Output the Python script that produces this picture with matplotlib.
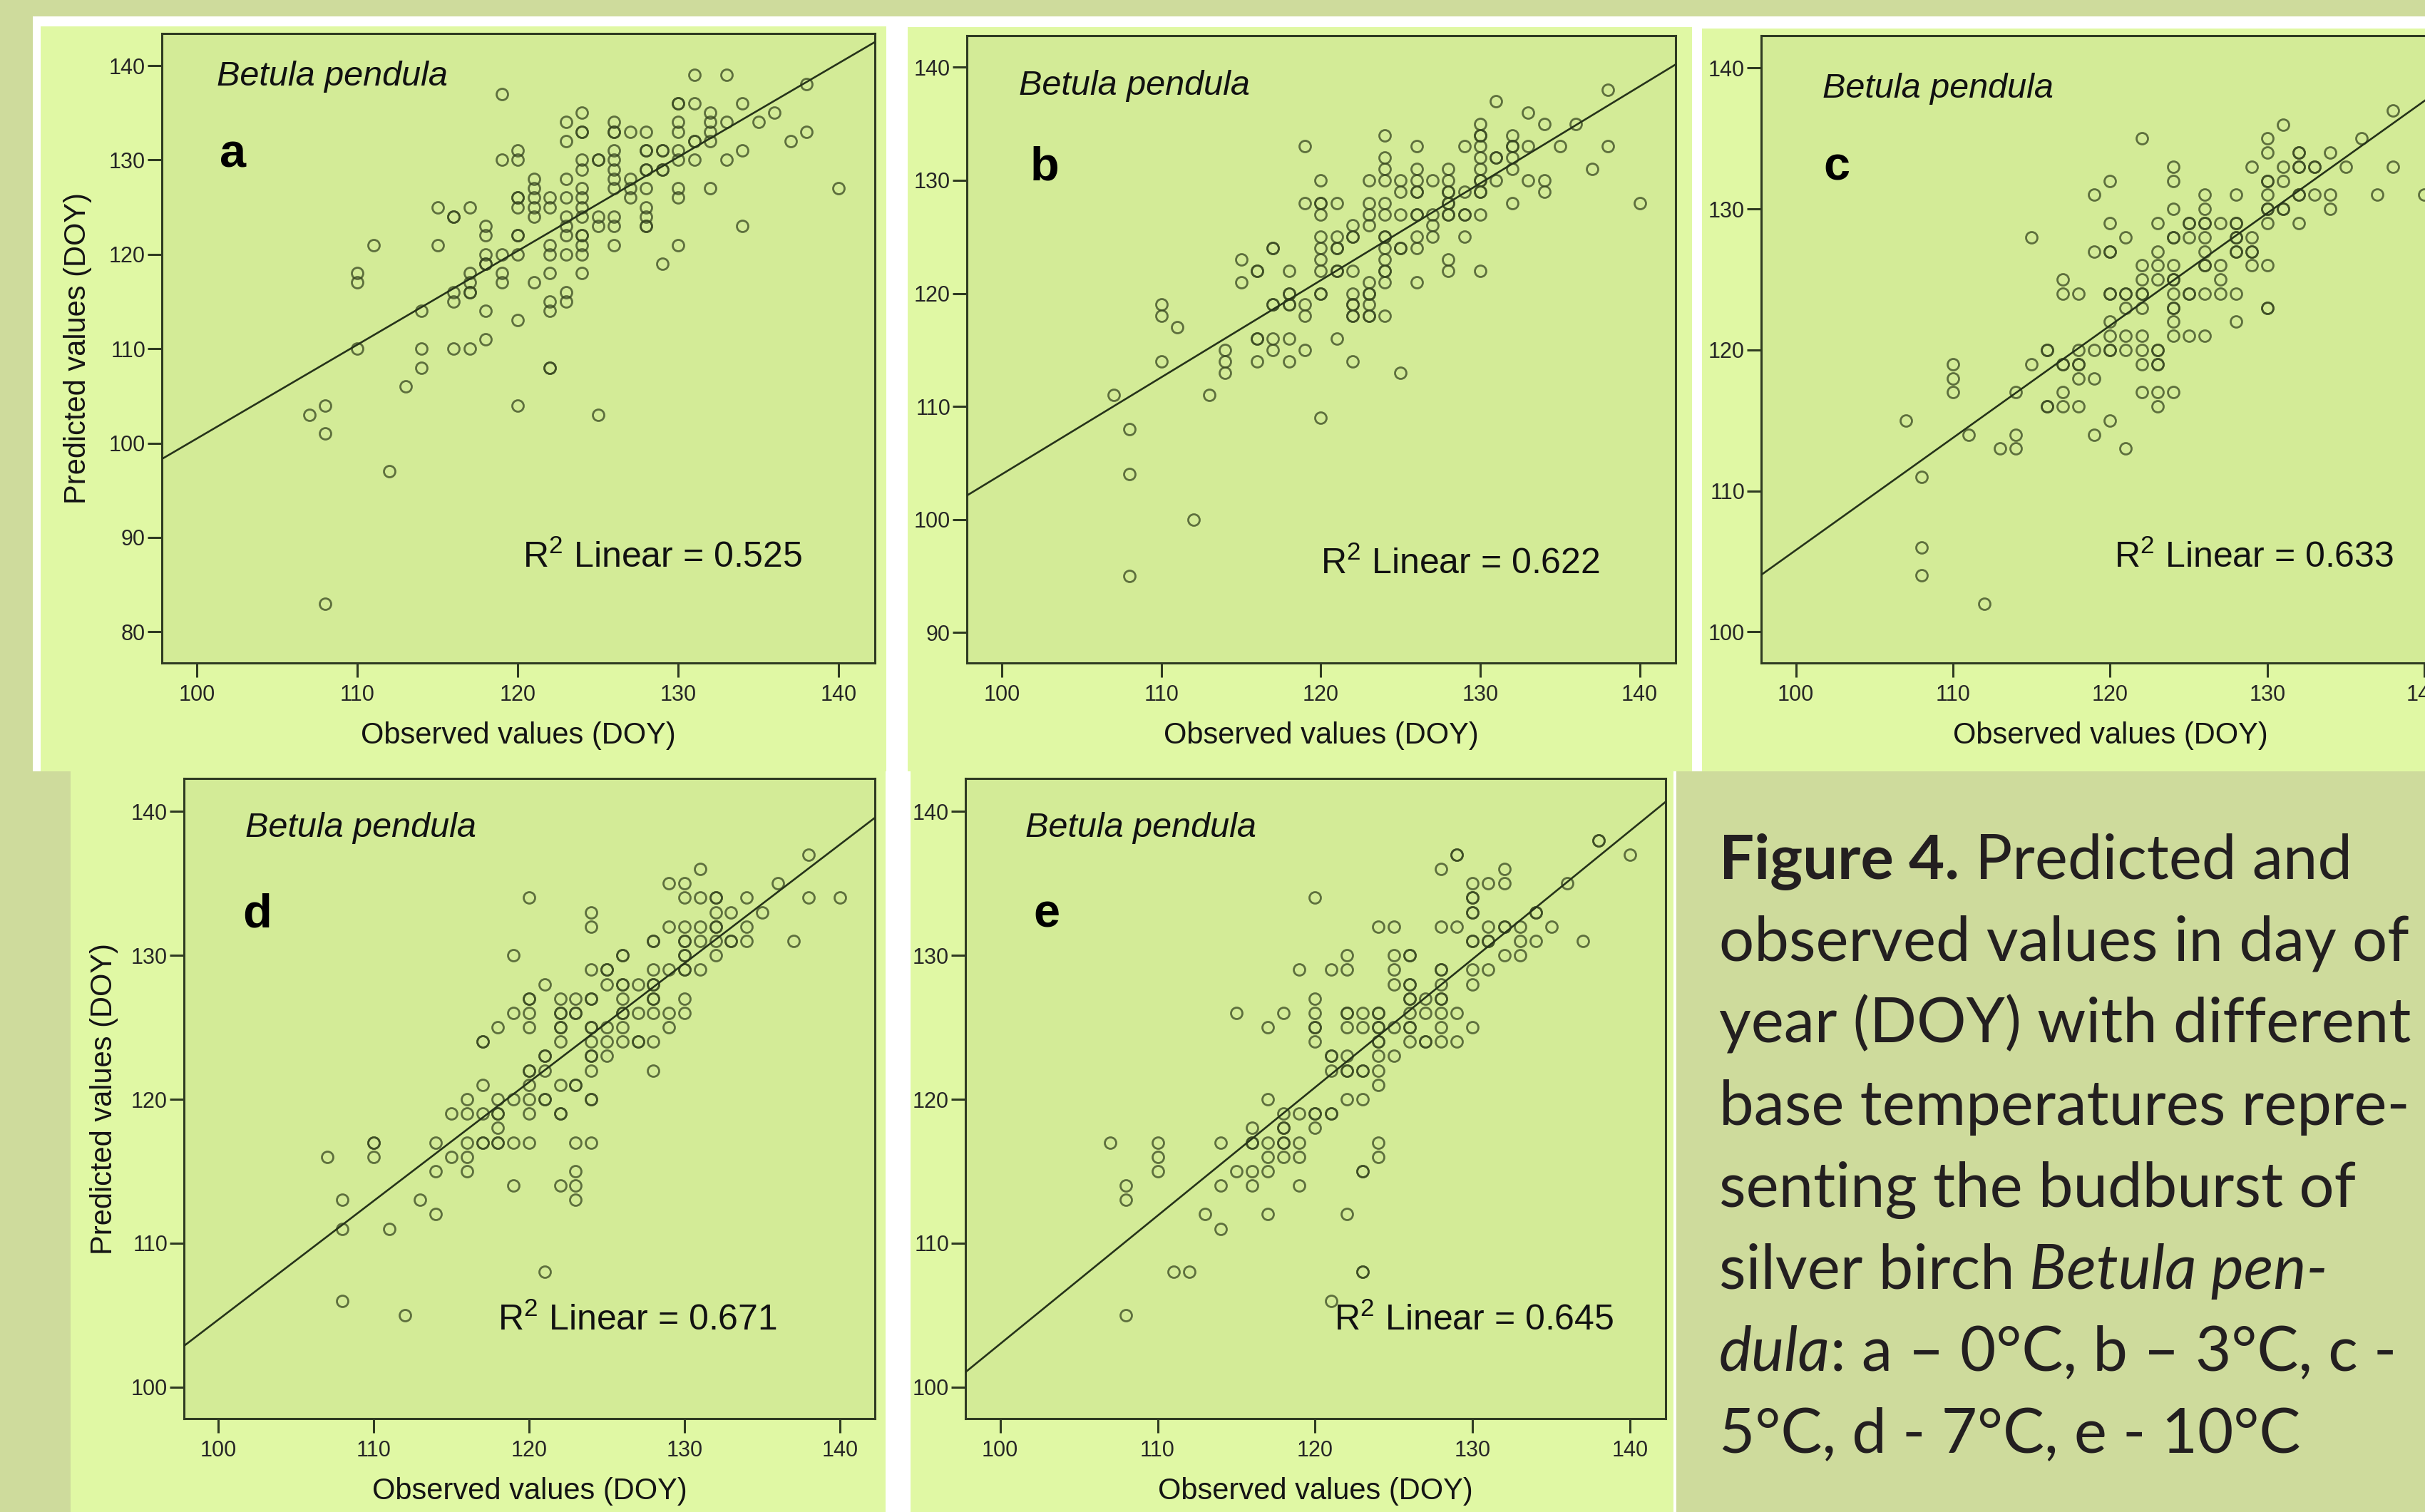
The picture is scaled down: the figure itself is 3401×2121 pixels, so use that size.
import matplotlib
matplotlib.use("Agg")
import matplotlib.pyplot as plt
from matplotlib.patches import Rectangle
import numpy as np

# ---------------- data (observed DOY, predicted DOY) ----------------
pts_a = [(119,137),(131,139),(133,139),(138,138),
 (130,136),(130,136),(131,136),(134,136),
 (124,135),(132,135),(136,135),
 (123,134),(126,134),(130,134),(132,134),(133,134),(135,134),
 (124,133),(124,133),(126,133),(126,133),(127,133),(128,133),(130,133),(132,133),(138,133),
 (123,132),(131,132),(131,132),(132,132),(137,132),
 (120,131),(126,131),(128,131),(128,131),(129,131),(129,131),(130,131),(134,131),
 (119,130),(120,130),(124,130),(125,130),(125,130),(126,130),(130,130),(131,130),(133,130),
 (124,129),(126,129),(128,129),(128,129),(129,129),(129,129),
 (121,128),(123,128),(126,128),(127,128),
 (121,127),(124,127),(126,127),(127,127),(128,127),(130,127),(132,127),(140,127),
 (120,126),(120,126),(121,126),(122,126),(123,126),(124,126),(127,126),(130,126),
 (115,125),(117,125),(120,125),(121,125),(122,125),(124,125),(128,125),
 (116,124),(116,124),(121,124),(123,124),(124,124),(125,124),(126,124),(128,124),
 (118,123),(123,123),(125,123),(126,123),(128,123),(128,123),(134,123),
 (118,122),(120,122),(120,122),(123,122),(124,122),(124,122),
 (111,121),(115,121),(122,121),(124,121),(126,121),(130,121),
 (118,120),(119,120),(120,120),(122,120),(123,120),(124,120),
 (118,119),(118,119),(129,119),
 (110,118),(117,118),(119,118),(122,118),(124,118),
 (110,117),(117,117),(119,117),(121,117),
 (116,116),(117,116),(117,116),(123,116),
 (116,115),(122,115),(123,115),
 (114,114),(118,114),(122,114),
 (120,113),(118,111),
 (110,110),(114,110),(116,110),(117,110),
 (114,108),(122,108),(122,108),
 (113,106),(108,104),(120,104),(107,103),(125,103),
 (108,101),(112,97),(108,83)]

pts_b = [(138,138),(131,137),(133,136),
 (130,135),(134,135),(136,135),
 (124,134),(130,134),(130,134),(132,134),
 (119,133),(126,133),(129,133),(130,133),(132,133),(132,133),(133,133),(135,133),(138,133),
 (124,132),(130,132),(131,132),(131,132),(132,132),
 (124,131),(126,131),(128,131),(130,131),(132,131),(137,131),
 (120,130),(123,130),(124,130),(125,130),(126,130),(127,130),(128,130),(130,130),(130,130),(131,130),(133,130),(134,130),
 (125,129),(126,129),(126,129),(128,129),(128,129),(129,129),(130,129),(130,129),(134,129),
 (119,128),(120,128),(120,128),(121,128),(123,128),(124,128),(128,128),(128,128),(132,128),(140,128),
 (120,127),(123,127),(124,127),(125,127),(126,127),(126,127),(127,127),(128,127),(128,127),(129,127),(129,127),(130,127),
 (122,126),(123,126),(127,126),
 (120,125),(121,125),(122,125),(122,125),(124,125),(124,125),(126,125),(127,125),(129,125),
 (117,124),(117,124),(120,124),(121,124),(121,124),(124,124),(125,124),(125,124),(126,124),
 (115,123),(120,123),(124,123),(128,123),
 (116,122),(116,122),(118,122),(120,122),(121,122),(121,122),(122,122),(124,122),(124,122),(128,122),(130,122),
 (115,121),(123,121),(124,121),(126,121),
 (118,120),(118,120),(120,120),(120,120),(122,120),(123,120),(123,120),
 (110,119),(117,119),(117,119),(118,119),(118,119),(119,119),(122,119),(122,119),(123,119),
 (110,118),(119,118),(122,118),(122,118),(123,118),(123,118),(124,118),
 (111,117),
 (116,116),(116,116),(117,116),(118,116),(121,116),
 (114,115),(117,115),(119,115),
 (110,114),(114,114),(116,114),(118,114),(122,114),
 (114,113),(125,113),(107,111),(113,111),
 (120,109),(108,108),(108,104),(112,100),(108,95)]

pts_c = [(138,137),(131,136),
 (122,135),(130,135),(136,135),
 (130,134),(132,134),(132,134),(134,134),
 (124,133),(129,133),(131,133),(132,133),(132,133),(133,133),(133,133),(135,133),(138,133),
 (120,132),(124,132),(130,132),(130,132),(131,132),
 (119,131),(126,131),(128,131),(130,131),(132,131),(132,131),(133,131),(134,131),(137,131),(140,131),
 (124,130),(126,130),(130,130),(130,130),(131,130),(131,130),(134,130),
 (120,129),(123,129),(125,129),(125,129),(126,129),(126,129),(127,129),(128,129),(128,129),(130,129),(132,129),
 (115,128),(121,128),(124,128),(124,128),(125,128),(126,128),(128,128),(128,128),(129,128),
 (119,127),(120,127),(120,127),(123,127),(126,127),(128,127),(128,127),(129,127),(129,127),
 (122,126),(123,126),(124,126),(126,126),(126,126),(127,126),(129,126),(130,126),
 (117,125),(122,125),(123,125),(124,125),(124,125),(127,125),
 (117,124),(118,124),(120,124),(120,124),(121,124),(121,124),(122,124),(122,124),(124,124),(125,124),(125,124),(126,124),(127,124),(128,124),
 (121,123),(122,123),(124,123),(124,123),(130,123),(130,123),
 (120,122),(124,122),(128,122),
 (120,121),(121,121),(122,121),(124,121),(125,121),(126,121),
 (116,120),(116,120),(118,120),(119,120),(120,120),(120,120),(121,120),(122,120),(123,120),(123,120),
 (110,119),(115,119),(117,119),(117,119),(118,119),(118,119),(122,119),(123,119),(123,119),
 (110,118),(118,118),(119,118),
 (110,117),(114,117),(117,117),(122,117),(123,117),(124,117),
 (116,116),(116,116),(117,116),(118,116),(123,116),
 (107,115),(120,115),
 (111,114),(114,114),(119,114),
 (113,113),(114,113),(121,113),
 (108,111),(108,106),(108,104),(112,102)]

pts_d = [(138,137),(131,136),
 (129,135),(130,135),(136,135),
 (120,134),(130,134),(131,134),(132,134),(132,134),(134,134),(138,134),(140,134),
 (124,133),(132,133),(133,133),(135,133),
 (124,132),(129,132),(130,132),(131,132),(132,132),(132,132),(134,132),
 (128,131),(128,131),(130,131),(130,131),(131,131),(132,131),(133,131),(133,131),(134,131),(137,131),
 (119,130),(126,130),(126,130),(130,130),(130,130),(132,130),
 (124,129),(125,129),(125,129),(128,129),(129,129),(130,129),(130,129),(131,129),
 (121,128),(125,128),(126,128),(126,128),(127,128),(128,128),(128,128),
 (120,127),(120,127),(122,127),(123,127),(124,127),(124,127),(126,127),(128,127),(128,127),(130,127),
 (119,126),(120,126),(122,126),(122,126),(123,126),(123,126),(126,126),(126,126),(127,126),(128,126),(129,126),(130,126),
 (118,125),(120,125),(122,125),(122,125),(124,125),(124,125),(125,125),(126,125),(129,125),
 (117,124),(117,124),(122,124),(124,124),(125,124),(126,124),(127,124),(127,124),(128,124),
 (121,123),(121,123),(124,123),(124,123),(125,123),
 (120,122),(120,122),(121,122),(124,122),(128,122),
 (117,121),(120,121),(122,121),(123,121),(123,121),
 (116,120),(118,120),(119,120),(120,120),(121,120),(121,120),(124,120),(124,120),
 (115,119),(116,119),(117,119),(118,119),(118,119),(120,119),(122,119),(122,119),
 (118,118),
 (110,117),(110,117),(114,117),(116,117),(117,117),(117,117),(118,117),(118,117),(119,117),(120,117),(123,117),(124,117),
 (107,116),(110,116),(115,116),(116,116),
 (114,115),(116,115),(123,115),
 (119,114),(122,114),(123,114),
 (108,113),(113,113),(123,113),
 (114,112),(108,111),(111,111),
 (121,108),(108,106),(112,105)]

pts_e = [(138,138),(138,138),
 (129,137),(129,137),(140,137),
 (128,136),(132,136),
 (130,135),(131,135),(132,135),(136,135),
 (120,134),(130,134),(130,134),
 (130,133),(130,133),(134,133),(134,133),
 (124,132),(125,132),(128,132),(129,132),(131,132),(132,132),(132,132),(133,132),(135,132),
 (130,131),(130,131),(131,131),(131,131),(133,131),(134,131),(137,131),
 (122,130),(125,130),(126,130),(126,130),(132,130),(133,130),
 (119,129),(121,129),(122,129),(125,129),(128,129),(128,129),(130,129),(131,129),
 (125,128),(126,128),(126,128),(128,128),(130,128),
 (120,127),(126,127),(126,127),(127,127),(128,127),(128,127),
 (115,126),(118,126),(120,126),(122,126),(122,126),(123,126),(124,126),(124,126),(126,126),(127,126),(128,126),(129,126),
 (117,125),(120,125),(120,125),(122,125),(123,125),(124,125),(124,125),(125,125),(126,125),(126,125),(128,125),(130,125),
 (120,124),(124,124),(124,124),(126,124),(127,124),(127,124),(128,124),(129,124),
 (121,123),(121,123),(122,123),(124,123),(125,123),
 (121,122),(122,122),(122,122),(123,122),(123,122),(124,122),
 (124,121),
 (117,120),(122,120),(123,120),
 (118,119),(119,119),(120,119),(120,119),(121,119),(121,119),
 (116,118),(118,118),(118,118),(120,118),
 (107,117),(110,117),(114,117),(116,117),(116,117),(117,117),(118,117),(118,117),(119,117),(124,117),
 (110,116),(117,116),(118,116),(119,116),(124,116),
 (110,115),(115,115),(116,115),(117,115),(123,115),(123,115),
 (108,114),(114,114),(116,114),(119,114),
 (108,113),
 (113,112),(117,112),(122,112),
 (114,111),
 (111,108),(112,108),(123,108),(123,108),
 (121,106),(108,105)]

panel_letters = ["a", "b", "c", "d", "e"]
r2_values = ["0.525", "0.622", "0.633", "0.671", "0.645"]
fit_slopes = [0.994, 0.858, 0.797, 0.826, 0.892]
fit_intercepts = [1.10, 18.2, 26.1, 22.07, 13.79]
y_ticks = [[80, 90, 100, 110, 120, 130, 140],
           [90, 100, 110, 120, 130, 140],
           [100, 110, 120, 130, 140],
           [100, 110, 120, 130, 140],
           [100, 110, 120, 130, 140]]
x_ticks = [100, 110, 120, 130, 140]
species = "Betula pendula"
x_label = "Observed values (DOY)"
y_label = "Predicted values (DOY)"

caption_lines = [
    [("Figure 4.", "bold", "normal"), ("Predicted and", "normal", "normal")],
    [("observed values in day of", "normal", "normal")],
    [("year (DOY) with different", "normal", "normal")],
    [("base temperatures repre-", "normal", "normal")],
    [("senting the budburst of", "normal", "normal")],
    [("silver birch", "normal", "normal"), ("Betula pen-", "normal", "italic")],
    [("dula", "normal", "italic"), (": a \u2013 0\u00b0C, b \u2013 3\u00b0C, c -", "normal", "normal", False)],
    [("5\u00b0C, d - 7\u00b0C, e - 10\u00b0C", "normal", "normal")],
]

# ---------------- style ----------------
OLIVE = "#cedb9c"
PANEL = "#e0f8a4"
AXBG = "#d3eb97"
WHITE = "#ffffff"
DARK = "#2f3b22"
PT = "#36451f"

plt.rcParams["font.family"] = ["Liberation Sans", "DejaVu Sans"]
plt.rcParams["mathtext.fontset"] = "custom"
plt.rcParams["mathtext.rm"] = "Liberation Sans"
plt.rcParams["mathtext.it"] = "Liberation Sans:italic"
plt.rcParams["mathtext.bf"] = "Liberation Sans:bold"

W, H = 3401, 2121
DPI = 100
fig = plt.figure(figsize=(W / DPI, H / DPI), dpi=DPI)
fig.patch.set_facecolor(OLIVE)


def rect(x0, y0, x1, y1, color):
    fig.patches.append(Rectangle((x0 / W, 1 - y1 / H), (x1 - x0) / W, (y1 - y0) / H,
                                 transform=fig.transFigure, facecolor=color,
                                 edgecolor="none", zorder=-10))


rect(46, 23, W, 1082, WHITE)
rect(57, 37, 1243, 1082, PANEL)
rect(1273, 38, 2373, 1082, PANEL)
rect(2387, 40, W, 1082, PANEL)
rect(99, 1082, 1242, H, PANEL)
rect(1242, 1082, 1277, H, WHITE)
rect(1277, 1082, 2347, H, PANEL)
rect(2347, 1082, 2351, H, WHITE)

boxes = [(227, 47, 1227, 930), (1356, 50, 2350, 930), (2470, 50, 3450, 930),
         (258, 1092, 1227, 1990), (1354, 1092, 2336, 1990)]
ylims = [(76.7, 143.4), (87.3, 142.8), (97.8, 142.3), (97.8, 142.3), (97.8, 142.3)]
xlim = (97.8, 142.25)
text_pos = [  # (species x,y), (letter x,y), (r2 x,y) in axes fraction
    ((0.077, 0.931), (0.081, 0.807), (0.506, 0.168)),
    ((0.073, 0.920), (0.089, 0.789), (0.499, 0.158)),
    ((0.088, 0.915), (0.089, 0.789), (0.505, 0.168)),
    ((0.089, 0.923), (0.085, 0.787), (0.454, 0.154)),
    ((0.086, 0.923), (0.097, 0.787), (0.526, 0.154)),
]
ylabel_off = {0: 118, 3: 112}
all_pts = [pts_a, pts_b, pts_c, pts_d, pts_e]

for i, (x0, y0, x1, y1) in enumerate(boxes):
    ax = fig.add_axes([x0 / W, 1 - y1 / H, (x1 - x0) / W, (y1 - y0) / H])
    ax.set_facecolor(AXBG)
    obs, pred = zip(*all_pts[i])
    ax.plot(obs, pred, linestyle="none", marker="o", markersize=11.5,
            markerfacecolor="none", markeredgecolor=PT, markeredgewidth=2.0,
            alpha=0.75, zorder=3)
    xs = np.array(xlim)
    ax.plot(xs, fit_intercepts[i] + fit_slopes[i] * xs, color="#26331a", lw=1.9, zorder=4)
    ax.set_xlim(*xlim)
    ax.set_ylim(*ylims[i])
    ax.set_xticks(x_ticks)
    ax.set_yticks(y_ticks[i])
    for s in ax.spines.values():
        s.set_color(DARK)
        s.set_linewidth(2.2)
    ax.tick_params(axis="both", direction="out", length=14.5, width=2.2, color=DARK,
                   labelsize=22, labelcolor="#262626")
    ax.tick_params(axis="y", pad=2)
    ax.tick_params(axis="x", pad=7)
    wpx, hpx = x1 - x0, y1 - y0
    ax.set_xlabel(x_label, fontsize=30, color="#141414")
    ax.xaxis.set_label_coords(0.5, -102 / hpx)
    ax.xaxis.label.set_verticalalignment("center")
    if i in ylabel_off:
        ax.set_ylabel(y_label, fontsize=30, color="#141414")
        ax.yaxis.set_label_coords(-ylabel_off[i] / wpx, 0.5)
        ax.yaxis.label.set_verticalalignment("center")
    (sx, sy), (lx, ly), (rx, ry) = text_pos[i]
    ax.text(sx, sy, species, transform=ax.transAxes, fontsize=35, fontstyle="italic",
            ha="left", va="center", color="#111111")
    ax.text(lx, ly, panel_letters[i], transform=ax.transAxes, fontsize=48,
            fontweight="bold", ha="left", va="center", color="#000000")
    ax.text(rx, ry, r"R$^{2}$ Linear = " + r2_values[i], transform=ax.transAxes,
            fontsize=36, ha="left", va="center", color="#111111")

# ---------------- caption ----------------
CAP_FONT = ["Lato", "DejaVu Sans"]
renderer = fig.canvas.get_renderer()


def text_width(s, size, weight, style):
    t = fig.text(0, 0, s, fontsize=size, fontweight=weight, fontstyle=style, family=CAP_FONT)
    w = t.get_window_extent(renderer).width
    t.remove()
    return w


def space_width(size, weight, style):
    return text_width("x x", size, weight, style) - text_width("xx", size, weight, style)


def line_width(segs, size):
    total = 0
    for k, seg in enumerate(segs):
        txt, weight, style = seg[0], seg[1], seg[2]
        sp = seg[3] if len(seg) > 3 else True
        if k > 0 and sp:
            total += space_width(size, weight, style)
        total += text_width(txt, size, weight, style)
    return total


ref_size = 60.0
scale5 = 944.0 / line_width(caption_lines[4], ref_size)
scale8 = 771.0 / line_width(caption_lines[7], ref_size)
cap_size = ref_size * 0.5 * (scale5 + scale8)

x_start, base0, step = 2411, 1232.6, 115.0
for j, segs in enumerate(caption_lines):
    x = x_start
    yb = base0 + j * step
    for k, seg in enumerate(segs):
        txt, weight, style = seg[0], seg[1], seg[2]
        sp = seg[3] if len(seg) > 3 else True
        if k > 0 and sp:
            x += space_width(cap_size, weight, style)
        t = fig.text(x / W, 1 - yb / H, txt, fontsize=cap_size, fontweight=weight,
                     fontstyle=style, family=CAP_FONT, ha="left", va="baseline",
                     color="#231f20")
        x += t.get_window_extent(renderer).width

fig.savefig("out.png", dpi=DPI, facecolor=OLIVE)
